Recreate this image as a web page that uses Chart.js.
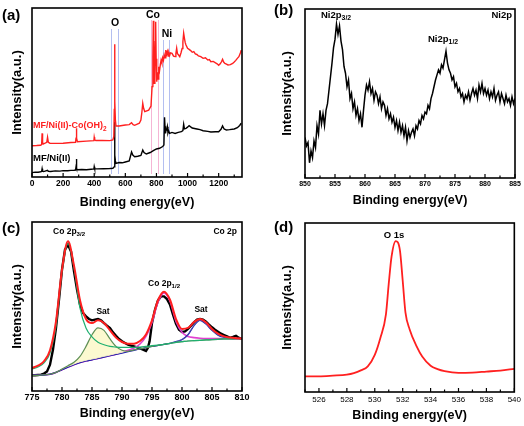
<!DOCTYPE html>
<html><head><meta charset="utf-8">
<script src="https://cdn.jsdelivr.net/npm/chart.js@4.4.0/dist/chart.umd.min.js"></script>
<style>
html,body{margin:0;padding:0;background:#fff;}
#wrap{position:relative;width:524px;height:426px;overflow:hidden;background:#fff;}
.pane{position:absolute;width:262px;height:213px;}
canvas{display:block;}
</style></head><body>
<div id="wrap">
<div class="pane" style="left:0;top:0"><canvas id="ca" width="262" height="213"></canvas></div>
<div class="pane" style="left:262px;top:0"><canvas id="cb" width="262" height="213"></canvas></div>
<div class="pane" style="left:0;top:213px"><canvas id="cc" width="262" height="213"></canvas></div>
<div class="pane" style="left:262px;top:213px"><canvas id="cd" width="262" height="213"></canvas></div>
</div>
<script>
const FONT = "'Liberation Sans', Arial, sans-serif";

// ---------- (a) survey spectra ----------
const surveyTicks = [0,200,400,600,800,1000,1200];
const surveyEnergyCo = [
 0,30,55,62,65,68,72,95,100,105,
 115,150,200,250,280,283,285,288,292,350,
 398,400,403,410,450,500,520,526,529,531,
 533,536,540,560,600,625,640,650,660,690,
 700,706,712,718,725,750,765,772,777,780,
 783,786,790,793,795,798,802,806,810,815,
 820,825,830,835,840,845,850,855,860,865,
 870,875,880,885,890,900,910,920,925,930,
 935,940,950,958,965,970,975,980,985,990,
 1000,1010,1020,1030,1040,1050,1060,1070,1085,1100,
 1115,1130,1140,1150,1165,1180,1190,1200,1210,1218,
 1225,1232,1240,1250,1260,1275,1290,1300,1310,1320,
 1330,1340,1345];
const surveyIntensityCo = [
 18.5,18.6,18.8,19.2,25.8,20.5,19.5,20.5,23.5,20.5,
 20.0,19.9,20.0,20.4,20.5,23.0,28.8,23.0,20.9,21.2,
 21.5,23.5,22.0,21.6,21.7,21.5,22.0,24.0,40.0,78.5,
 45.0,33.7,30.2,30.2,30.8,31.0,32.1,31.0,30.6,31.8,
 33.7,38.0,43.6,40.5,38.7,39.6,42.0,53.5,71.2,92.5,
 79.0,55.4,65.3,80.0,91.9,70.0,56.4,62.0,58.0,65.3,
 63.0,66.5,69.2,67.5,70.5,69.0,72.2,70.5,75.1,72.5,
 74.2,71.5,73.5,72.0,73.5,73.2,71.5,71.2,73.0,76.1,
 73.0,72.5,71.2,73.5,76.0,80.0,85.0,82.0,79.5,78.1,
 76.1,75.5,74.8,73.8,74.2,72.8,72.5,71.6,71.2,70.2,
 70.5,69.2,69.5,68.2,68.4,67.5,67.0,66.1,67.0,68.2,
 69.6,68.0,67.2,66.8,66.3,66.5,67.2,68.0,69.0,70.2,
 71.2,73.5,75.1];
const surveyEnergyNi = [
 0,20,40,55,62,65,68,75,100,105,
 120,150,180,200,230,250,270,280,283,285,
 288,292,320,350,380,398,400,403,420,460,
 500,520,528,531,533,536,540,560,580,600,
 625,640,648,660,680,700,712,720,735,760,
 780,800,820,840,848,852,855,858,862,866,
 870,874,878,885,900,920,940,960,970,975,
 980,990,1000,1010,1030,1060,1080,1100,1130,1150,
 1180,1200,1215,1225,1235,1250,1270,1300,1320,1335,
 1345];
const surveyIntensityNi = [
 2.6,2.9,2.8,3.1,3.3,4.9,3.4,3.2,3.9,3.4,
 3.3,3.6,3.5,3.8,3.7,3.9,4.0,4.1,6.0,10.6,
 5.0,4.3,4.4,4.3,4.6,4.8,6.1,4.9,4.8,4.9,
 5.0,5.2,6.0,32.7,13.0,9.5,8.1,8.6,8.4,8.9,
 9.5,14.8,13.0,12.0,12.3,12.8,16.0,14.5,13.6,14.5,
 15.6,16.6,17.0,18.0,19.0,35.3,30.0,25.8,27.8,28.0,
 29.8,26.2,27.4,25.8,26.4,25.8,26.4,26.8,27.5,31.2,
 28.5,28.8,29.5,30.4,29.0,28.4,28.0,27.4,27.0,26.6,
 26.8,26.8,28.2,30.2,28.4,27.8,28.0,28.4,29.2,30.5,
 31.8];
const markerO = [508,555];
const markerCo = [766,813];
const markerNi = [839,882];

// ---------- (b) Ni 2p ----------
const niTicks = [850,855,860,865,870,875,880,885];
const niEnergy = Array.from({length:141},(_, i)=>850+i*0.25);
const niIntensity = [
 24,19,21,9,16,12,22,18,31,26,40,32,38,31,40,44,52,60,68,77,
 82,91,85,90,81,76,66,62,54,58,47,50,41,45,37,41,34,38,30,40,
 49,55,52,57,50,53,46,51,49,44,48,41,45,43,37,41,35,38,33,36,
 30,34,28,33,27,31,25,30,22,28,24,27,29,25,31,29,34,32,37,35,
 39,38,43,41,47,50,54,58,61,64,62,67,65,70,75,68,64,62,58,60,
 54,56,51,53,48,50,45,49,47,51,46,50,53,49,52,47,55,51,56,50,
 53,49,52,47,51,48,53,46,49,51,45,50,47,44,49,45,47,43,48,44,
 47];

// ---------- (c) Co 2p ----------
const coTicks = [775,780,785,790,795,800,805,810];
const coFitEnergy = Array.from({length:36},(_, i)=>775+i);
const coRawEnergy = [
 775,775.5,776,776.5,777,777.5,778,778.5,779,779.5,
 780,780.5,781,781.5,782,782.5,783,783.5,784,784.5,
 785,785.5,786,786.5,787,787.5,788,788.5,789,789.5,
 790,790.5,791,791.5,792,792.5,793,793.5,794,794.3,
 794.6,795,795.5,796,796.5,797,797.5,798,798.5,799,
 799.5,800,800.5,801,801.5,802,802.5,803,803.5,804,
 804.5,805,805.5,806,806.5,807,807.5,808,808.5,809,
 809.5,810];
const coRaw = [
 9.3,9.3,9.5,9.7,10.3,11.6,15.6,24.5,37.3,54.0,
 71.8,83.6,86.6,82.6,70.8,60.0,51.1,46.2,44.2,42.6,
 41.8,42.2,42.6,41.8,40.2,38.7,37.3,34.7,32.7,30.8,
 29.4,28.4,27.4,26.8,26.4,25.8,25.2,24.5,23.7,25.4,
 29.4,40.2,48.1,53.6,56.0,56.0,54.4,51.1,45.2,39.8,
 36.3,34.9,35.3,36.7,38.7,40.6,42.2,42.6,42.2,41.0,
 39.3,37.7,36.3,35.1,33.9,33.1,32.3,31.4,32.0,32.7,
 31.4,30.8];
const coEnvelope = [
 13.6,15.0,17.6,24.1,41.2,71.8,88.6,74.2,53.7,42.6,
 40.2,41.8,40.2,35.9,31.6,29.0,28.0,28.0,29.6,33.5,
 41.8,53.7,58.8,54.0,42.6,36.7,37.3,40.8,42.6,40.6,
 36.7,33.9,32.3,31.6,31.2,31.0];
const coP32 = [
 13.0,14.2,16.6,22.5,38.3,70.8,87.2,72.8,49.1,37.3,
 32.0,28.8,27.4,26.4,26.0,25.8,25.8,25.8,26.0,26.4,
 26.8,27.2,27.6,28.2,28.8,29.2,29.6,29.8,30.0,30.2,
 30.4,30.6,30.8,30.8,31.0,31.0];
const coSat1 = [
 9.3,9.3,9.5,9.9,11.0,13.0,15.0,17.0,20.5,26.4,
 33.3,37.3,35.9,30.8,26.4,24.1,23.5,24.3,25.0,25.6,
 26.4,27.0,27.6,28.2,28.8,29.2,29.6,29.8,30.0,30.2,
 30.4,30.6,30.8,30.8,31.0,31.0];
const coP12 = [
 9.3,9.3,9.5,9.9,11.0,12.6,14.2,15.6,16.8,17.8,
 18.5,19.3,20.1,20.9,21.7,22.9,24.1,25.4,27.8,32.3,
 40.6,52.5,58.0,53.1,41.2,34.7,32.3,31.6,31.2,31.0,
 31.0,31.0,31.0,31.0,31.0,31.0];
const coSat2Bg = [
 9.3,9.3,9.5,9.9,11.0,12.6,14.2,15.6,16.8,17.8,
 18.5,19.3,20.1,20.9,21.7,22.5,23.3,24.1,24.9,25.6,
 26.4,27.0,27.6,28.2,29.2,30.4,33.3,38.7,41.8,39.6,
 35.9,33.1,31.8,31.2,31.0,31.0];

// ---------- (d) O 1s ----------
const oTicks = [526,528,530,532,534,536,538,540];
const oEnergy = [525,526,527,528,528.5,529,529.5,530,530.4,530.8,531,531.2,531.5,531.8,532,532.2,532.5,533,533.4,534,534.5,535,536,537,538,539,540];
const oIntensity = [9.3,9.3,9.7,10.3,11.2,12.8,15.2,22,32,46,64,80,89.3,84,66,47,37,27,21,15.5,13.5,12.3,11.3,11.5,12.1,12.7,13.7];

// ---------- helpers ----------
const zip = (xs, ys) => xs.map((x, i) => ({x: x, y: ys[i]}));

function drawRich(ctx, parts, x, y, size, color, align) {
  const subSize = size * 0.72;
  let w = 0;
  parts.forEach(p => { ctx.font = 'bold ' + (p[1] ? subSize : size) + 'px ' + FONT; w += ctx.measureText(p[0]).width; });
  let cx = align === 'center' ? x - w / 2 : (align === 'right' ? x - w : x);
  ctx.fillStyle = color;
  ctx.textBaseline = 'middle';
  ctx.textAlign = 'left';
  parts.forEach(p => {
    ctx.font = 'bold ' + (p[1] ? subSize : size) + 'px ' + FONT;
    ctx.fillText(p[0], cx, p[1] ? y + size * 0.32 : y);
    cx += ctx.measureText(p[0]).width;
  });
}

const framePlugin = {
  id: 'frame',
  beforeDatasetsDraw(chart, args, o) {
    const ctx = chart.ctx, a = chart.chartArea, x = chart.scales.x;
    (o.vlines || []).forEach(l => {
      l.values.forEach(v => {
        const px = Math.round(x.getPixelForValue(v)) + 0.5;
        ctx.save();
        ctx.strokeStyle = l.color; ctx.lineWidth = 1;
        ctx.beginPath(); ctx.moveTo(px, l.top); ctx.lineTo(px, a.bottom - 3); ctx.stroke();
        ctx.restore();
      });
    });
  },
  afterDatasetsDraw(chart, args, o) {
    const ctx = chart.ctx, a = chart.chartArea, x = chart.scales.x;
    ctx.save();
    ctx.strokeStyle = '#000'; ctx.lineWidth = 1.6;
    ctx.strokeRect(a.left, a.top, a.right - a.left, a.bottom - a.top);
    ctx.lineWidth = 1.2;
    const majors = o.ticks;
    const step = majors[1] - majors[0];
    majors.forEach(v => {
      const px = x.getPixelForValue(v);
      ctx.beginPath(); ctx.moveTo(px, a.bottom); ctx.lineTo(px, a.bottom - 4); ctx.stroke();
    });
    for (let v = majors[0] - step / 2; v <= x.max; v += step) {
      if (v < x.min) continue;
      const px = x.getPixelForValue(v);
      ctx.beginPath(); ctx.moveTo(px, a.bottom); ctx.lineTo(px, a.bottom - 2.5); ctx.stroke();
    }
    ctx.restore();
  },
  afterDraw(chart, args, o) {
    const ctx = chart.ctx;
    ctx.save();
    (o.labels || []).forEach(l => drawRich(ctx, l.parts, l.x, l.y, l.size, l.color || '#000', l.align || 'left'));
    ctx.restore();
  }
};

function makeChart(id, c) {
  return new Chart(document.getElementById(id), {
    type: 'line',
    data: { datasets: c.datasets },
    options: {
      responsive: false, animation: false, events: [],
      layout: { padding: c.pad },
      elements: { point: { radius: 0 } },
      plugins: { legend: { display: false }, tooltip: { enabled: false }, frame: c.frame },
      scales: {
        x: {
          type: 'linear', min: c.xmin, max: c.xmax,
          afterBuildTicks: s => { s.ticks = c.frame.ticks.map(v => ({ value: v })); },
          afterFit: s => { s.height = c.xh; },
          grid: { display: false, drawTicks: false }, border: { display: false },
          ticks: { font: { family: FONT, size: c.tickSize, weight: c.tickWeight }, color: '#000', padding: c.tickPad, maxRotation: 0, autoSkip: false,
                   callback: v => String(v) },
          title: { display: true, text: 'Binding energy(eV)', color: '#000', font: { family: FONT, size: 12.5, weight: 'bold' }, padding: { top: 0, bottom: c.xtPad } }
        },
        y: {
          min: 0, max: 100,
          afterFit: s => { s.width = c.yw; },
          grid: { display: false, drawTicks: false }, border: { display: false },
          ticks: { display: false },
          title: { display: true, text: 'Intensity(a.u.)', color: '#000', font: { family: FONT, size: 13, weight: 'bold' }, padding: { top: c.ytPad, bottom: 0 } }
        }
      }
    },
    plugins: [framePlugin]
  });
}

const line = (data, color, width, smooth) => ({
  data: data, borderColor: color, borderWidth: width, fill: false,
  tension: 0, cubicInterpolationMode: smooth ? 'monotone' : 'default', pointRadius: 0
});

// (a)
makeChart('ca', {
  datasets: [
    line(zip(surveyEnergyCo, surveyIntensityCo), '#ff2020', 1.4, false),
    line(zip(surveyEnergyNi, surveyIntensityNi), '#000000', 1.4, false)
  ],
  xmin: 0, xmax: 1350, pad: { left: 0, top: 8, right: 20, bottom: 0 }, yw: 32, xh: 36,
  tickSize: 8.5, tickWeight: 'bold', tickPad: 2, xtPad: 3, ytPad: 10,
  frame: {
    ticks: surveyTicks,
    vlines: [
      { values: markerO, color: '#b4bff0', top: 29 },
      { values: markerCo, color: '#f5b5d5', top: 20 },
      { values: markerNi, color: '#b4bff0', top: 40 }
    ],
    labels: [
      { parts: [['(a)', 0]], x: 2, y: 16, size: 15 },
      { parts: [['O', 0]], x: 115, y: 23, size: 10.5, align: 'center' },
      { parts: [['Co', 0]], x: 153, y: 15, size: 10.5, align: 'center' },
      { parts: [['Ni', 0]], x: 167, y: 34, size: 10.5, align: 'center' },
      { parts: [['MF/Ni(II)-Co(OH)', 0], ['2', 1]], x: 33, y: 126, size: 9, color: '#ff2020' },
      { parts: [['MF/Ni(II)', 0]], x: 33, y: 158, size: 9.5 }
    ]
  }
});

// (b)
makeChart('cb', {
  datasets: [ line(zip(niEnergy, niIntensity), '#000000', 1.5, false) ],
  xmin: 850, xmax: 885, pad: { left: 0, top: 9, right: 9, bottom: 0 }, yw: 43, xh: 35,
  tickSize: 7, tickWeight: 'bold', tickPad: 2, xtPad: 5, ytPad: 18,
  frame: {
    ticks: niTicks,
    labels: [
      { parts: [['(b)', 0]], x: 12, y: 11, size: 15 },
      { parts: [['Ni2p', 0], ['3/2', 1]], x: 59, y: 15, size: 9.5 },
      { parts: [['Ni2p', 0]], x: 250, y: 15, size: 9.5, align: 'right' },
      { parts: [['Ni2p', 0], ['1/2', 1]], x: 166, y: 39, size: 9.5 }
    ]
  }
});

// (c)
const cSets = [
  line(zip(coFitEnergy, coEnvelope), '#ff2020', 2, true),
  line(zip(coFitEnergy, coP32), '#1fb070', 1.2, true),
  Object.assign(line(zip(coFitEnergy, coSat1), '#5e8f55', 1.2, true),
    { fill: { target: 3, above: 'rgba(252,248,200,0.85)', below: 'rgba(0,0,0,0)' } }),
  line(zip(coFitEnergy, coSat2Bg), '#1c1ca8', 1.4, true),
  line(zip(coFitEnergy, coP12), '#e040d0', 1.6, true),
  line(zip(coRawEnergy, coRaw), '#000000', 2.4, false)
];
makeChart('cc', {
  datasets: cSets,
  xmin: 775, xmax: 810, pad: { left: 0, top: 9, right: 20, bottom: 0 }, yw: 32, xh: 35,
  tickSize: 9, tickWeight: 'bold', tickPad: 1, xtPad: 5, ytPad: 10,
  frame: {
    ticks: coTicks,
    labels: [
      { parts: [['(c)', 0]], x: 2, y: 16, size: 15 },
      { parts: [['Co 2p', 0], ['3/2', 1]], x: 53, y: 19, size: 8.5 },
      { parts: [['Co 2p', 0]], x: 237, y: 19, size: 8.5, align: 'right' },
      { parts: [['Sat', 0]], x: 103, y: 99, size: 8.5, align: 'center' },
      { parts: [['Co 2p', 0], ['1/2', 1]], x: 148, y: 71, size: 8.5 },
      { parts: [['Sat', 0]], x: 201, y: 97, size: 8.5, align: 'center' }
    ]
  }
});

// (d)
makeChart('cd', {
  datasets: [ line(zip(oEnergy, oIntensity), '#ff2020', 1.8, true) ],
  xmin: 525, xmax: 540, pad: { left: 0, top: 10, right: 9, bottom: 0 }, yw: 43, xh: 34,
  tickSize: 8, tickWeight: 'normal', tickPad: 3, xtPad: 3, ytPad: 18,
  frame: {
    ticks: oTicks,
    labels: [
      { parts: [['(d)', 0]], x: 12, y: 15, size: 15 },
      { parts: [['O 1s', 0]], x: 132, y: 22, size: 9.5, align: 'center' }
    ]
  }
});
</script>
</body></html>
